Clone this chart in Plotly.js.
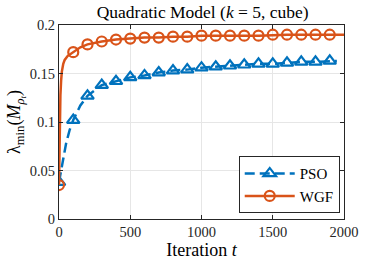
<!DOCTYPE html>
<html><head><meta charset="utf-8">
<script src="https://cdn.plot.ly/plotly-3.0.1.min.js"></script>
<style>html,body{margin:0;padding:0;background:#fff}</style>
</head><body><div id="plot" style="width:381px;height:269px"></div>
<script>
// PSO series (blue, dashed)
const psoT = [0, 25, 50, 75, 100, 150, 200, 300, 400, 500, 600, 700, 800, 900, 1000, 1100, 1200, 1300, 1400, 1500, 1600, 1700, 1800, 1900, 1950];
const psoV = [0.038, 0.06, 0.078, 0.092, 0.102, 0.117, 0.127, 0.138, 0.142, 0.146, 0.148, 0.151, 0.153, 0.154, 0.156, 0.157, 0.158, 0.159, 0.160, 0.160, 0.161, 0.162, 0.162, 0.163, 0.163];
const psoMarkT = [0, 100, 200, 300, 400, 500, 600, 700, 800, 900, 1000, 1100, 1200, 1300, 1400, 1500, 1600, 1700, 1800, 1900];
const psoMarkV = [0.038, 0.102, 0.127, 0.138, 0.142, 0.146, 0.148, 0.151, 0.153, 0.154, 0.156, 0.157, 0.158, 0.159, 0.160, 0.160, 0.161, 0.162, 0.162, 0.163];
// WGF series (orange, solid)
const wgfT = [0, 2, 5, 10, 15, 20, 30, 40, 60, 80, 100, 150, 200, 300, 400, 500, 600, 700, 800, 900, 1000, 1200, 1400, 1600, 1800, 2000];
const wgfV = [0.035, 0.07, 0.10, 0.128, 0.143, 0.152, 0.160, 0.164, 0.168, 0.170, 0.172, 0.177, 0.180, 0.183, 0.185, 0.186, 0.187, 0.187, 0.188, 0.188, 0.189, 0.189, 0.189, 0.190, 0.190, 0.190];
const wgfMarkT = [0, 100, 200, 300, 400, 500, 600, 700, 800, 900, 1000, 1100, 1200, 1300, 1400, 1500, 1600, 1700, 1800, 1900];
const wgfMarkV = [0.035, 0.172, 0.180, 0.183, 0.185, 0.186, 0.187, 0.187, 0.188, 0.188, 0.189, 0.189, 0.189, 0.189, 0.189, 0.190, 0.190, 0.190, 0.190, 0.190];
const seriesNames = ['PSO', 'WGF'];
const xTicks = [0, 500, 1000, 1500, 2000];
const yTicks = [0, 0.05, 0.1, 0.15, 0.2];
const yTickText = ['0', '0.05', '0.1', '0.15', '0.2'];

const blue = '#0072BD', orange = '#D95319';
const serif = 'Liberation Serif, DejaVu Serif, serif';

const traces = [
  {x: psoT, y: psoV, mode: 'lines', line: {color: blue, width: 2.5, dash: '10px,5px'}, showlegend: false, hoverinfo: 'skip'},
  {x: psoMarkT, y: psoMarkV, mode: 'markers', marker: {symbol: 'triangle-up-open', size: 11, color: blue, line: {width: 2.2, color: blue}}, showlegend: false},
  {x: wgfT, y: wgfV, mode: 'lines', line: {color: orange, width: 2.5}, showlegend: false, hoverinfo: 'skip'},
  {x: wgfMarkT, y: wgfMarkV, mode: 'markers', marker: {symbol: 'circle-open', size: 10, color: orange, line: {width: 2.2, color: orange}}, showlegend: false},
  {x: [null], y: [null], name: seriesNames[0], mode: 'lines+markers', line: {color: blue, width: 2.5, dash: '10px,5px'}, marker: {symbol: 'triangle-up-open', size: 11, color: blue, line: {width: 2.2, color: blue}}},
  {x: [null], y: [null], name: seriesNames[1], mode: 'lines+markers', line: {color: orange, width: 2.5}, marker: {symbol: 'circle-open', size: 10, color: orange, line: {width: 2.2, color: orange}}}
];

const layout = {
  width: 381, height: 269,
  margin: {l: 59, r: 37, t: 25, b: 50},
  paper_bgcolor: '#fff', plot_bgcolor: '#fff',
  font: {family: serif, size: 14, color: '#262626'},
  title: {text: 'Quadratic Model (<i>k</i> = 5, cube)', x: 0.532, xanchor: 'center', y: 0.955, yanchor: 'middle', font: {family: serif, size: 17.5, color: '#000'}},
  xaxis: {
    range: [0, 2000], tickvals: xTicks, ticktext: xTicks.map(String),
    showgrid: true, gridcolor: '#e6e6e6', gridwidth: 1,
    ticks: 'inside', ticklen: 4, tickcolor: '#262626', mirror: 'ticks',
    showline: true, linecolor: '#262626', linewidth: 1, zeroline: false,
    tickfont: {family: serif, size: 14.5, color: '#262626'},
    title: {text: 'Iteration <i>t</i>', font: {family: serif, size: 18, color: '#000'}, standoff: 2}
  },
  yaxis: {
    range: [0, 0.2], tickvals: yTicks, ticktext: yTickText,
    showgrid: true, gridcolor: '#e6e6e6', gridwidth: 1,
    ticks: 'inside', ticklen: 4, tickcolor: '#262626', mirror: 'ticks',
    showline: true, linecolor: '#262626', linewidth: 1, zeroline: false,
    tickfont: {family: serif, size: 14.5, color: '#262626'},
    title: {text: 'λ<sub>min</sub>(<i>M</i><sub><i>ρ</i><sub><i>t</i></sub></sub>)', font: {family: serif, size: 18, color: '#000'}, standoff: 4}
  },
  legend: {x: 0.985, y: 0.03, xanchor: 'right', yanchor: 'bottom', bgcolor: '#fff', bordercolor: '#262626', borderwidth: 1, font: {family: serif, size: 15, color: '#000'}, tracegroupgap: 0, itemwidth: 50},
  showlegend: true
};

Plotly.newPlot('plot', traces, layout, {staticPlot: true, displayModeBar: false});
</script></body></html>
